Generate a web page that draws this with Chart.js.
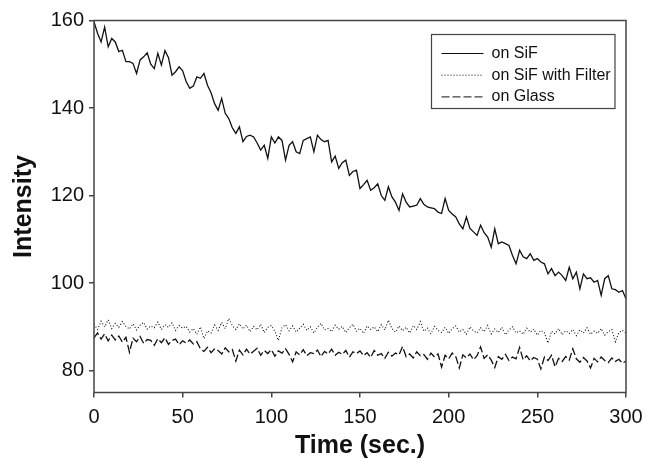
<!DOCTYPE html>
<html>
<head>
<meta charset="utf-8">
<script src="https://cdn.jsdelivr.net/npm/chart.js@4.4.1/dist/chart.umd.min.js"></script>
<style>
  body { margin: 0; background: #fff; }
  #wrap { width: 646px; height: 461px; }
</style>
</head>
<body>
<div id="wrap"><canvas id="intensityChart"></canvas></div>
<script>
// sample times (sec.)
const times = [
  0, 2, 4, 6, 8, 10, 12, 14, 16, 18, 20, 22, 24, 26, 28, 30, 32, 34, 36, 38,
  40, 42, 44, 46, 48, 50, 52, 54, 56, 58, 60, 62, 64, 66, 68, 70, 72, 74, 76, 78,
  80, 82, 84, 86, 88, 90, 92, 94, 96, 98, 100, 102, 104, 106, 108, 110, 112, 114, 116, 118,
  120, 122, 124, 126, 128, 130, 132, 134, 136, 138, 140, 142, 144, 146, 148, 150, 152, 154, 156, 158,
  160, 162, 164, 166, 168, 170, 172, 174, 176, 178, 180, 182, 184, 186, 188, 190, 192, 194, 196, 198,
  200, 202, 204, 206, 208, 210, 212, 214, 216, 218, 220, 222, 224, 226, 228, 230, 232, 234, 236, 238,
  240, 242, 244, 246, 248, 250, 252, 254, 256, 258, 260, 262, 264, 266, 268, 270, 272, 274, 276, 278,
  280, 282, 284, 286, 288, 290, 292, 294, 296, 298, 300
];

const onSiF = [
  159.7, 157.1, 155.1, 158.5, 154.0, 155.9, 155.1, 152.9, 153.2, 150.6,
  150.6, 150.2, 147.9, 151.0, 151.7, 152.6, 150.0, 149.0, 152.5, 149.8,
  153.1, 151.5, 147.5, 148.3, 149.4, 148.5, 146.0, 144.5, 145.0, 147.1,
  146.8, 147.9, 145.2, 143.5, 141.0, 139.5, 142.2, 138.8, 137.6, 135.5,
  134.2, 135.7, 132.3, 133.5, 133.8, 133.4, 132.0, 130.4, 131.5, 128.5,
  133.4, 132.0, 133.4, 132.6, 128.1, 131.5, 132.3, 130.0, 129.6, 132.6,
  133.0, 133.4, 130.0, 133.8, 132.8, 132.3, 132.6, 127.7, 129.0, 126.2,
  127.5, 128.1, 124.6, 125.5, 125.8, 121.6, 122.5, 123.5, 121.2, 121.8,
  122.7, 120.0, 118.9, 122.0, 119.7, 118.5, 116.6, 120.4, 118.5, 117.4,
  117.6, 117.8, 119.3, 118.0, 117.4, 117.2, 117.0, 116.2, 115.9, 119.3,
  116.6, 115.8, 115.1, 113.5, 112.4, 115.1, 112.5, 111.7, 110.9, 113.2,
  111.5, 110.5, 108.2, 112.4, 109.0, 109.4, 109.0, 108.6, 106.3, 104.4,
  107.5, 106.0, 105.6, 106.7, 105.2, 105.6, 104.8, 104.4, 102.1, 103.3,
  101.7, 102.5, 101.7, 100.6, 103.6, 101.0, 102.5, 98.7, 102.1, 101.0,
  101.2, 100.2, 100.6, 97.2, 101.0, 101.7, 98.7, 98.5, 97.9, 98.3,
  96.4
];

const onSiFFilter = [
  90.6, 89.4, 91.3, 90.0, 91.6, 89.6, 90.8, 89.9, 91.2, 90.1,
  89.5, 90.7, 89.3, 90.4, 91.0, 89.5, 90.2, 89.8, 91.1, 89.4,
  90.5, 89.9, 90.9, 89.2, 90.3, 89.7, 90.1, 88.8, 89.6, 88.3,
  90.0, 87.3, 89.1, 88.6, 90.4, 89.2, 91.0, 89.6, 91.9, 90.3,
  89.4, 90.7, 89.5, 90.4, 88.9, 90.1, 89.3, 90.6, 88.7, 89.9,
  90.3, 89.0, 86.9, 89.8, 90.5, 89.1, 90.2, 88.8, 89.7, 90.6,
  89.2, 90.0, 88.6, 89.9, 90.8, 89.3, 89.6, 88.9, 90.4, 89.5,
  90.1, 88.7, 89.8, 90.6, 89.0, 89.7, 88.5, 90.2, 89.4, 90.0,
  88.9, 90.5, 89.3, 91.5, 89.6, 88.8, 90.2, 89.1, 89.9, 88.6,
  90.3, 89.4, 91.2, 89.0, 89.7, 88.4, 90.1, 89.2, 88.7, 89.9,
  88.5, 89.6, 90.2, 88.8, 89.4, 88.3, 90.0, 89.1, 88.6, 89.8,
  88.9, 90.3, 88.4, 89.5, 88.7, 89.9, 88.2, 89.3, 90.0, 88.6,
  89.1, 88.3, 89.7, 88.8, 89.5, 88.1, 89.2, 88.7, 86.3, 89.0,
  88.4, 89.6, 88.2, 89.1, 88.5, 89.4, 88.0, 89.3, 88.6, 89.8,
  88.3, 89.0, 88.5, 89.6, 88.1, 88.9, 89.4, 86.6, 88.7, 89.2,
  88.6
];

const onGlass = [
  87.5, 88.6, 87.2, 88.4, 86.8, 88.1, 87.0, 87.9, 86.5, 87.6,
  84.2, 87.4, 86.6, 87.8, 86.2, 87.1, 86.9, 85.8, 87.3, 86.4,
  87.5, 86.0, 86.9, 87.2, 85.9, 86.8, 86.3, 87.0, 86.1, 86.6,
  85.0, 84.4, 85.3, 84.1, 85.0, 84.6, 83.8, 85.2, 84.3, 84.8,
  82.2, 84.7, 83.6, 84.9, 83.8, 84.4, 85.1, 83.5, 84.6, 83.9,
  84.8, 83.3, 84.5, 84.0, 85.0, 83.7, 82.0, 84.3, 83.6, 84.8,
  83.4, 84.1, 83.9, 84.7, 83.2, 84.4, 83.8, 84.9, 83.5, 84.2,
  83.7, 84.6, 83.1, 84.3, 83.9, 84.5, 83.4, 84.1, 83.0, 84.6,
  83.5, 83.9, 82.8, 84.2, 83.3, 84.0, 83.6, 85.5, 83.2, 83.8,
  82.9, 84.3, 83.4, 83.7, 82.6, 84.0, 83.1, 83.8, 80.8, 83.5,
  82.7, 84.0, 83.2, 80.6, 83.6, 82.9, 83.8, 82.5, 83.4, 85.4,
  82.8, 83.6, 82.4, 80.7, 83.2, 82.6, 83.7, 82.3, 83.1, 82.7,
  85.3, 82.5, 83.4, 82.2, 83.0, 82.6, 80.4, 83.1, 82.3, 83.5,
  80.9, 82.8, 82.1, 83.2, 82.4, 85.0, 82.7, 81.9, 83.0, 82.2,
  80.6, 82.8, 82.0, 83.1, 82.3, 81.8, 82.9, 82.1, 82.6, 81.7,
  82.2
];

const seriesLabels = ['on SiF', 'on SiF with Filter', 'on Glass'];
const yTickValues = [80, 100, 120, 140, 160];

const fontFam = '"Liberation Sans", Arial, Helvetica, sans-serif';

function toPoints(values) {
  return values.map((v, i) => ({ x: times[i], y: v }));
}

// box around the plot and the legend inside it
const frameAndLegend = {
  id: 'frameAndLegend',
  afterDatasetsDraw(chart) {
    const { ctx, chartArea: a } = chart;
    ctx.save();
    ctx.strokeStyle = '#444';
    ctx.lineWidth = 1.5;
    ctx.strokeRect(a.left, a.top, a.right - a.left, a.bottom - a.top);

    const bx = a.right - 194.5, by = a.top + 14, bw = 183.5, bh = 74;
    ctx.fillStyle = '#fff';
    ctx.fillRect(bx, by, bw, bh);
    ctx.lineWidth = 1.2;
    ctx.strokeRect(bx, by, bw, bh);

    ctx.font = '16px ' + fontFam;
    ctx.textBaseline = 'middle';
    chart.data.datasets.forEach((ds, i) => {
      const y = by + 19 + i * 21.7;
      ctx.beginPath();
      ctx.setLineDash(ds.borderDash || []);
      ctx.strokeStyle = ds.borderColor;
      ctx.lineWidth = 1;
      ctx.moveTo(bx + 10, y);
      ctx.lineTo(bx + 52, y);
      ctx.stroke();
      ctx.setLineDash([]);
      ctx.fillStyle = '#111';
      ctx.fillText(ds.label, bx + 60, y);
    });
    ctx.restore();
  }
};

const ctx = document.getElementById('intensityChart');
new Chart(ctx, {
  type: 'line',
  data: {
    datasets: [
      {
        label: seriesLabels[0],
        data: toPoints(onSiF),
        borderColor: '#111',
        borderWidth: 1.3,
        pointRadius: 0,
        tension: 0
      },
      {
        label: seriesLabels[1],
        data: toPoints(onSiFFilter),
        borderColor: '#111',
        borderWidth: 1.1,
        borderDash: [1, 2],
        pointRadius: 0,
        tension: 0
      },
      {
        label: seriesLabels[2],
        data: toPoints(onGlass),
        borderColor: '#111',
        borderWidth: 1.3,
        borderDash: [8, 3],
        pointRadius: 0,
        tension: 0
      }
    ]
  },
  options: {
    responsive: true,
    maintainAspectRatio: false,
    animation: false,
    layout: { padding: { left: 0, right: 20, top: 20.5, bottom: 0 } },
    plugins: {
      legend: { display: false },
      tooltip: { enabled: false }
    },
    scales: {
      x: {
        type: 'linear',
        min: 0,
        max: 300,
        ticks: {
          stepSize: 50,
          color: '#111',
          maxRotation: 0,
          padding: 8,
          font: { size: 20, family: fontFam }
        },
        grid: { drawOnChartArea: false, tickLength: 5, color: '#444', lineWidth: 1.5 },
        border: { display: false },
        title: {
          display: true,
          text: 'Time (sec.)',
          color: '#111',
          padding: { top: 7, bottom: 0 },
          font: { size: 25, weight: 'bold', family: fontFam }
        },
        afterFit(s) {
          s.height = 68.5;
          s.paddingLeft = 0;
          s.paddingRight = 0;
        }
      },
      y: {
        type: 'linear',
        min: 75,
        max: 160,
        afterBuildTicks(s) { s.ticks = yTickValues.map(v => ({ value: v })); },
        ticks: {
          color: '#111',
          padding: 5,
          font: { size: 20, family: fontFam }
        },
        grid: { drawOnChartArea: false, tickLength: 5, color: '#444', lineWidth: 1.5 },
        border: { display: false },
        title: {
          display: true,
          text: 'Intensity',
          color: '#111',
          padding: { top: 9, bottom: 0 },
          font: { size: 25, weight: 'bold', family: fontFam }
        },
        afterFit(s) {
          s.width = 94;
          s.paddingTop = 0;
          s.paddingBottom = 0;
        }
      }
    }
  },
  plugins: [frameAndLegend]
});
</script>
</body>
</html>
